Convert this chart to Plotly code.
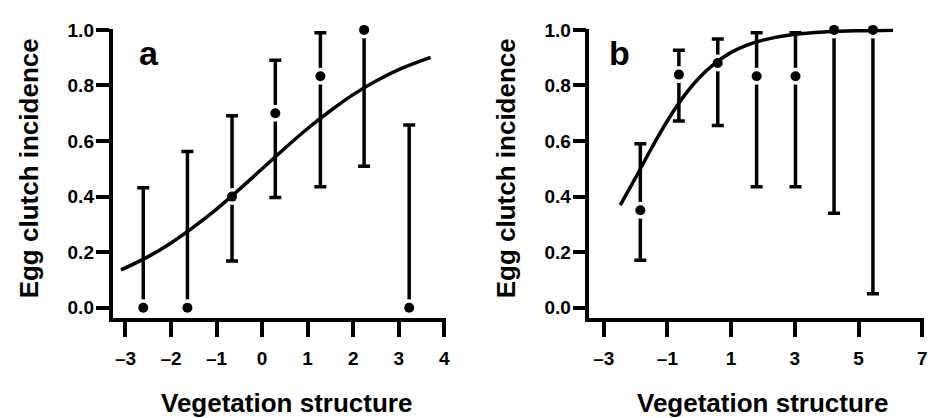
import plotly.graph_objects as go

# ---------------- data ----------------
# Panel a
a_x = [-2.61, -1.64, -0.66, 0.29, 1.28, 2.24, 3.23]
a_y = [0.0, 0.0, 0.40, 0.70, 0.833, 1.0, 0.0]
a_lo = [0.0, 0.0, 0.168, 0.397, 0.435, 0.509, 0.0]
a_hi = [0.432, 0.562, 0.691, 0.891, 0.990, 1.0, 0.658]
a_curve_x = [-3.1, -2.5, -2.0, -1.5, -1.0, -0.5, 0.0, 0.5, 1.0, 1.5, 2.0, 2.5, 3.0, 3.7]
a_curve_y = [0.136, 0.184, 0.233, 0.291, 0.355, 0.426, 0.50, 0.574, 0.645, 0.709, 0.767, 0.816, 0.857, 0.901]

# Panel b
b_x = [-1.85, -0.64, 0.58, 1.80, 3.02, 4.23, 5.45]
b_y = [0.351, 0.839, 0.881, 0.833, 0.833, 1.0, 1.0]
b_lo = [0.171, 0.672, 0.656, 0.435, 0.435, 0.340, 0.050]
b_hi = [0.590, 0.927, 0.967, 0.990, 0.990, 1.0, 1.0]
b_curve_x = [-2.48, -2.0, -1.5, -1.0, -0.5, 0.0, 0.5, 1.0, 1.5, 2.0, 3.0, 4.0, 5.0, 6.08]
b_curve_y = [0.369, 0.468, 0.574, 0.673, 0.759, 0.828, 0.880, 0.919, 0.945, 0.963, 0.984, 0.993, 0.997, 0.999]

a_xticks = [-3, -2, -1, 0, 1, 2, 3, 4]
b_xticks = [-3, -1, 1, 3, 5, 7]
y_ticks = [0.0, 0.2, 0.4, 0.6, 0.8, 1.0]
y_ticklabels = ["0.0", "0.2", "0.4", "0.6", "0.8", "1.0"]
panel_labels = ["a", "b"]
x_title = "Vegetation structure"
y_title = "Egg clutch incidence"

# ---------------- figure ----------------
W, H = 928, 418
FONT = "Liberation Sans, Arial, Helvetica, sans-serif"
LW = 3.5

fig = go.Figure()


def add_panel(xs, ys, lo, hi, cx, cy, xa, ya):
    plus = [h - y for h, y in zip(hi, ys)]
    minus = [y - l for y, l in zip(ys, lo)]
    # error bars
    fig.add_trace(go.Scatter(
        x=xs, y=ys, mode="markers", xaxis=xa, yaxis=ya,
        marker=dict(size=1, color="rgba(0,0,0,0)"),
        error_y=dict(type="data", array=plus, arrayminus=minus, symmetric=False,
                     color="black", thickness=LW, width=6),
        cliponaxis=False, showlegend=False, hoverinfo="skip"))
    # white halo around points
    fig.add_trace(go.Scatter(
        x=xs, y=ys, mode="markers", xaxis=xa, yaxis=ya,
        marker=dict(size=17, color="white", line=dict(width=0)),
        cliponaxis=False, showlegend=False, hoverinfo="skip"))
    # fitted curve
    fig.add_trace(go.Scatter(
        x=cx, y=cy, mode="lines", xaxis=xa, yaxis=ya,
        line=dict(color="black", width=LW, shape="spline"),
        cliponaxis=False, showlegend=False, hoverinfo="skip"))
    # points
    fig.add_trace(go.Scatter(
        x=xs, y=ys, mode="markers", xaxis=xa, yaxis=ya,
        marker=dict(size=10, color="black", line=dict(width=0)),
        cliponaxis=False, showlegend=False))


add_panel(a_x, a_y, a_lo, a_hi, a_curve_x, a_curve_y, "x", "y")
add_panel(b_x, b_y, b_lo, b_hi, b_curve_x, b_curve_y, "x2", "y2")

tickfont = dict(family=FONT, size=19, color="black", weight="bold")
y_dom = [(H - 316) / H, (H - 20) / H]
y_rng = [-0.0376, 1.0047]

common_x = dict(showline=True, linewidth=LW, linecolor="black", ticks="outside",
                ticklen=15, tickwidth=LW, tickcolor="black", showgrid=False,
                zeroline=False, tickfont=tickfont, tickmode="array",
                ticklabelstandoff=5, ticklabeloverflow="allow")
common_y = dict(showline=True, linewidth=LW, linecolor="black", ticks="outside",
                ticklen=13, tickwidth=LW, tickcolor="black", showgrid=False,
                zeroline=False, tickfont=tickfont, tickmode="array",
                tickvals=y_ticks, ticktext=y_ticklabels, range=y_rng,
                domain=y_dom, ticklabelstandoff=-2)


def lab(v):
    s = str(abs(v))
    return ("\u2013" + s) if v < 0 else s


fig.update_layout(
    width=W, height=H, margin=dict(l=0, r=0, t=0, b=0),
    paper_bgcolor="white", plot_bgcolor="white",
    xaxis=dict(common_x, domain=[113 / W, 448 / W], range=[-3.285, 4.04],
               tickvals=a_xticks, ticktext=[lab(v) for v in a_xticks], anchor="y"),
    yaxis=dict(common_y, anchor="x"),
    xaxis2=dict(common_x, domain=[592 / W, 1.0], range=[-3.447, 7.053],
                tickvals=b_xticks, ticktext=[lab(v) for v in b_xticks], anchor="y2"),
    yaxis2=dict(common_y, anchor="x2"),
)

title_font = dict(family=FONT, size=26, color="black", weight="bold")
letter_font = dict(family=FONT, size=34, color="black", weight="bold")
annots = []
for i, (ycx, xcx, lx) in enumerate([(30, 288, 138), (509, 766, 610)]):
    annots.append(dict(text=y_title, x=ycx / W, y=(H - 163) / H, xref="paper", yref="paper",
                       textangle=-90, showarrow=False, font=title_font,
                       xanchor="center", yanchor="middle"))
    annots.append(dict(text=x_title, x=xcx / W, y=(H - 403) / H, xref="paper", yref="paper",
                       showarrow=False, font=title_font, xanchor="center", yanchor="middle"))
    annots.append(dict(text=panel_labels[i], x=lx / W, y=(H - 45) / H, xref="paper", yref="paper",
                       showarrow=False, font=letter_font, xanchor="left", yanchor="middle"))
fig.update_layout(annotations=annots)

fig.write_html("out.html")
